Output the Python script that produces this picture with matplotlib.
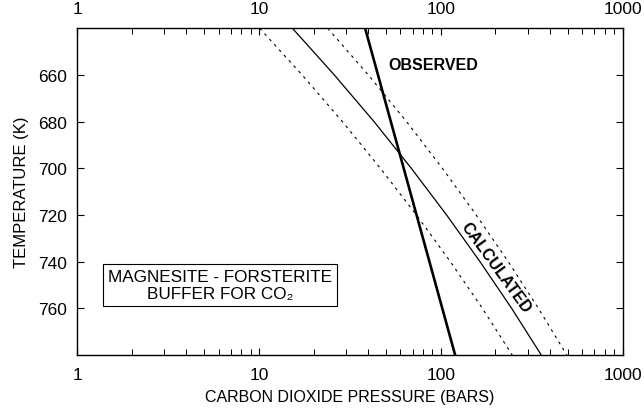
import matplotlib
matplotlib.use("Agg")
import matplotlib.pyplot as plt
from matplotlib.ticker import LogLocator, FixedLocator, NullFormatter

plt.rcParams['font.family'] = ['Liberation Sans', 'DejaVu Sans']

# Temperatures (K) at which the curves were read
temps = [640, 660, 680, 700, 720, 740, 760, 780]
calc_p = [15.3, 26.0, 43.0, 68.9, 107.7, 164.4, 245.4, 357.0]
calc_low_p = [10.1, 17.3, 28.8, 46.6, 73.5, 113.0, 169.4, 247.2]
calc_high_p = [23.9, 40.0, 64.9, 102.1, 156.7, 235.0, 344.4, 493.3]

obs_temps = [640, 780]
obs_p = [38.4, 120.0]

x_ticks = [1, 10, 100, 1000]
x_ticklabels = ["1", "10", "100", "1000"]
y_ticks = [660, 680, 700, 720, 740, 760]

fig = plt.figure(figsize=(6.44, 4.10), dpi=100)
ax = fig.add_axes([77/644, 1 - 356/410, (622.3-76.7)/644, (356-29.3)/410])

ax.plot(calc_p, temps, color='black', lw=0.9)
ax.plot(calc_low_p, temps, color='black', lw=0.8, linestyle=(0, (2.5, 4)))
ax.plot(calc_high_p, temps, color='black', lw=0.8, linestyle=(0, (2.5, 4)))
ax.plot(obs_p, obs_temps, color='black', lw=1.9)

ax.set_xscale('log')
ax.set_xlim(1, 1000)
ax.set_ylim(780, 640)

ax.xaxis.set_major_locator(FixedLocator(x_ticks))
ax.set_xticklabels(x_ticklabels)
ax.xaxis.set_minor_locator(LogLocator(base=10, subs=range(2, 10)))
ax.xaxis.set_minor_formatter(NullFormatter())
ax.set_yticks(y_ticks)

ax.tick_params(which='major', direction='in', length=5, width=0.8,
               top=True, bottom=True, left=True, right=True,
               labeltop=True, labelbottom=True, labelsize=12.5)
ax.tick_params(axis='x', which='major', pad=9)
ax.tick_params(axis='y', which='major', pad=7)
ax.tick_params(which='minor', direction='in', length=4, width=0.7,
               top=True, bottom=True)
for s in ax.spines.values():
    s.set_linewidth(1.0)

ax.set_xlabel("CARBON DIOXIDE PRESSURE (BARS)", fontsize=11.5, labelpad=5)
ax.set_ylabel("TEMPERATURE (K)", fontsize=12, labelpad=7)

ax.text(51.6, 655.3, "OBSERVED", fontsize=11.5, fontweight='bold',
        ha='left', va='center')
ax.text(201, 742.4, "CALCULATED", fontsize=11.5, fontweight='bold',
        ha='center', va='center', rotation=-54)
ax.text(6.1, 750, "MAGNESITE - FORSTERITE\nBUFFER FOR CO\u2082", fontsize=12.3,
        ha='center', va='center', linespacing=1.15,
        bbox=dict(boxstyle='square,pad=0.3', fc='white', ec='black', lw=0.8))

fig.savefig("out.png", dpi=100)
